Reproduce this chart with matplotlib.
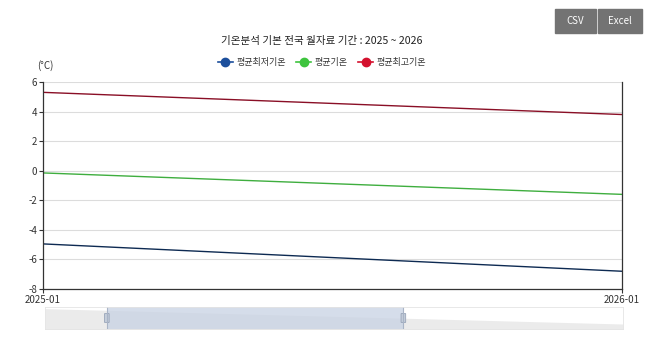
import matplotlib.pyplot as plt
from matplotlib.patches import FancyBboxPatch, Rectangle
from matplotlib.lines import Line2D

plt.rcParams['font.family'] = ['Noto Sans CJK KR', 'DejaVu Sans']

# data
months = ["2025-01", "2026-01"]
min_temp = [-4.95, -6.8]   # 평균최저기온
avg_temp = [-0.15, -1.6]   # 평균기온
max_temp = [5.3, 3.8]      # 평균최고기온
y_ticks = [-8, -6, -4, -2, 0, 2, 4, 6]
series_names = ["평균최저기온", "평균기온", "평균최고기온"]
line_colors = ["#0d2a52", "#3fae3f", "#8a0f26"]
marker_colors = ["#1c4f9c", "#3ec43e", "#d4112e"]
zoom_start, zoom_end = 0.107, 0.62   # slider selection (fraction of range)

W, H = 658, 338
fig = plt.figure(figsize=(W / 100, H / 100), dpi=100)

def fx(px):
    return px / W

def fy(py):
    return 1 - py / H

# main plot
ax = fig.add_axes([fx(43), fy(289), fx(622) - fx(43), fy(82) - fy(289)])
x = list(range(len(months)))
for vals, c in zip([min_temp, avg_temp, max_temp], line_colors):
    ax.plot(x, vals, color=c, linewidth=1.0, solid_capstyle='butt')
ax.set_xlim(0, 1)
ax.set_ylim(-8, 6)
ax.set_yticks(y_ticks)
ax.set_yticklabels([str(t) for t in y_ticks], fontsize=7, color="#333333")
ax.set_xticks(x)
ax.set_xticklabels(months, fontsize=7, color="#333333")
ax.grid(axis='y', color="#dcdcdc", linewidth=0.8)
ax.set_axisbelow(True)
for side in ['left', 'bottom', 'right']:
    ax.spines[side].set_color("#333333")
    ax.spines[side].set_linewidth(0.9)
ax.spines['top'].set_visible(False)
ax.tick_params(axis='both', length=3, width=0.8, color="#333333", pad=1)

fig.text(fx(37), fy(66), "(°C)", fontsize=7, color="#333333", va='center')

# title
fig.text(fx(322), fy(41), "기온분석 기본 전국 월자료 기간 : 2025 ~ 2026",
         fontsize=7.6, ha='center', va='center', color="#222222")

# legend
handles = [Line2D([0], [0], color=mc, marker='o', markersize=6, linewidth=1.2)
           for mc in marker_colors]
fig.legend(handles, series_names, loc='center', bbox_to_anchor=(fx(322), fy(63)),
           ncol=3, frameon=False, fontsize=6.5, handlelength=1.7, handletextpad=0.4,
           columnspacing=1.1, labelcolor="#333333")

# CSV / Excel buttons
for label, x0, x1 in [("CSV", 555, 596), ("Excel", 598, 642)]:
    fig.patches.append(Rectangle((fx(x0), fy(33)), fx(x1) - fx(x0), fy(9) - fy(33),
                                 transform=fig.transFigure, color="#737373"))
    fig.text(fx((x0 + x1) / 2), fy(21), label, fontsize=7, color="white",
             ha='center', va='center')

# data zoom slider
sax = fig.add_axes([fx(45), fy(329), fx(623) - fx(45), fy(307) - fy(329)])
sax.fill_between(x, min_temp, -9, color="#ebebeb", linewidth=0)
sax.set_xlim(0, 1)
sax.set_ylim(-7.4, -4.75)
sax.set_xticks([])
sax.set_yticks([])
for s in sax.spines.values():
    s.set_color("#e4e4e4")
    s.set_linewidth(0.6)
sax.axvspan(zoom_start, zoom_end, color="#c8d2e3", alpha=0.75, linewidth=0)
for zx in [zoom_start, zoom_end]:
    sax.axvline(zx, color="#a9b4c6", linewidth=0.8)
    sax.add_patch(FancyBboxPatch((zx - 0.004, 0.3), 0.008, 0.4,
                                 boxstyle="round,pad=0.0,rounding_size=0.003",
                                 transform=sax.get_xaxis_transform(),
                                 facecolor="#c4cdda", edgecolor="#98a4b8", linewidth=0.6))

fig.savefig("out.png", dpi=100)
